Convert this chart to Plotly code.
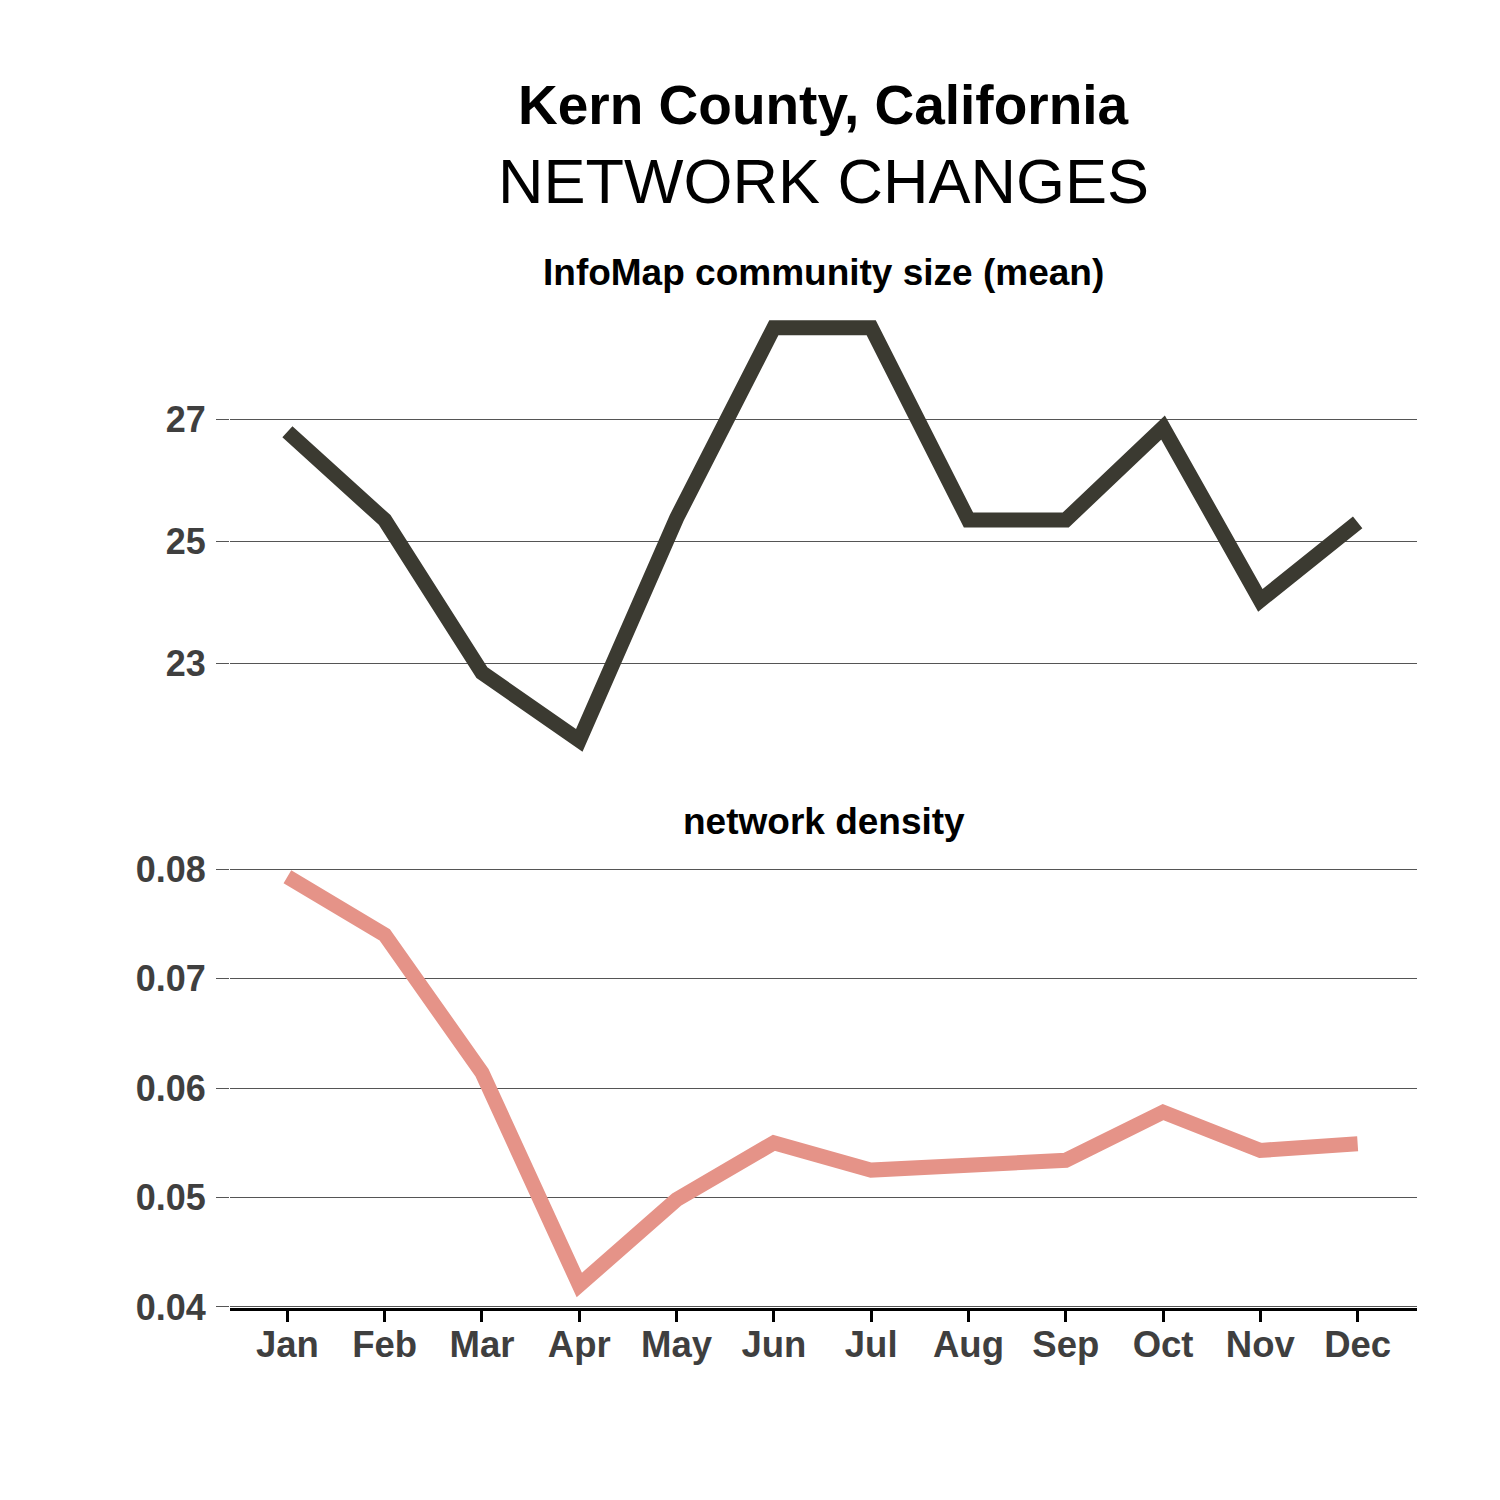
import plotly.graph_objects as go

months = ["Jan", "Feb", "Mar", "Apr", "May", "Jun", "Jul", "Aug", "Sep", "Oct", "Nov", "Dec"]
community_size = [26.8, 25.35, 22.84, 21.73, 25.38, 28.51, 28.51, 25.35, 25.35, 26.87, 24.03, 25.31]
network_density = [0.0793, 0.0740, 0.0614, 0.0420, 0.0498, 0.0550, 0.0525, 0.0529, 0.0534, 0.0578, 0.0543, 0.0549]

top_ticks = [23, 25, 27]
bottom_ticks = [0.04, 0.05, 0.06, 0.07, 0.08]
bottom_ticklabels = ["0.04", "0.05", "0.06", "0.07", "0.08"]

FONT = "Liberation Sans, Arial, sans-serif"
TICKCOL = "#3f3f3f"
GRID = "#555555"

W = H = 1500
def py(px):
    return 1 - px / H

fig = go.Figure()
fig.add_trace(go.Scatter(x=months, y=community_size, mode="lines",
                         line=dict(color="#3b3a31", width=15),
                         xaxis="x", yaxis="y", showlegend=False))
fig.add_trace(go.Scatter(x=months, y=network_density, mode="lines",
                         line=dict(color="#e59388", width=15),
                         xaxis="x2", yaxis="y2", showlegend=False))

xdom = [230 / W, 1417 / W]
xrange_ = [-0.59, 11.61]

fig.update_layout(
    width=W, height=H,
    margin=dict(l=0, r=0, t=0, b=0, autoexpand=False),
    paper_bgcolor="white", plot_bgcolor="white",
    font=dict(family=FONT),
    xaxis=dict(domain=xdom, anchor="y", range=xrange_, showgrid=False,
               showticklabels=False, ticks="", showline=False, zeroline=False,
               automargin=False,
               categoryorder="array", categoryarray=months),
    yaxis=dict(domain=[py(761), py(307)], anchor="x", range=[21.39, 28.85],
               tickvals=top_ticks, ticktext=[str(t) for t in top_ticks],
               showgrid=True, gridcolor=GRID, gridwidth=1, zeroline=False,
               ticks="outside", ticklen=13, tickcolor=GRID, tickwidth=1,
               ticklabelstandoff=3, automargin=False,
               tickfont=dict(family=FONT, size=36, color=TICKCOL, weight="bold")),
    xaxis2=dict(domain=xdom, anchor="y2", range=xrange_, showgrid=False,
                categoryorder="array", categoryarray=months,
                showline=True, linecolor="black", linewidth=3,
                ticks="outside", ticklen=11, tickcolor="black", tickwidth=3,
                ticklabelstandoff=-9, automargin=False,
                tickfont=dict(family=FONT, size=36.5, color=TICKCOL, weight="bold"),
                zeroline=False),
    yaxis2=dict(domain=[py(1308), py(856)], anchor="x2", range=[0.0399, 0.0812],
                tickvals=bottom_ticks, ticktext=bottom_ticklabels,
                showgrid=True, gridcolor=GRID, gridwidth=1, zeroline=False,
                ticks="outside", ticklen=13, tickcolor=GRID, tickwidth=1,
                ticklabelstandoff=3, automargin=False,
                tickfont=dict(family=FONT, size=36, color=TICKCOL, weight="bold")),
)

cx = (230 + 1417) / 2 / W
annos = [
    ("<b>Kern County, California</b>", 105, 55),
    ("NETWORK CHANGES", 181, 63),
    ("<b>InfoMap community size (mean)</b>", 273, 37),
    ("<b>network density</b>", 821, 37),
]
for text, ypx, size in annos:
    fig.add_annotation(text=text, xref="paper", yref="paper", x=cx, y=py(ypx),
                       xanchor="center", yanchor="middle", showarrow=False,
                       font=dict(family=FONT, size=size, color="black"))

fig.write_html("out.html")
